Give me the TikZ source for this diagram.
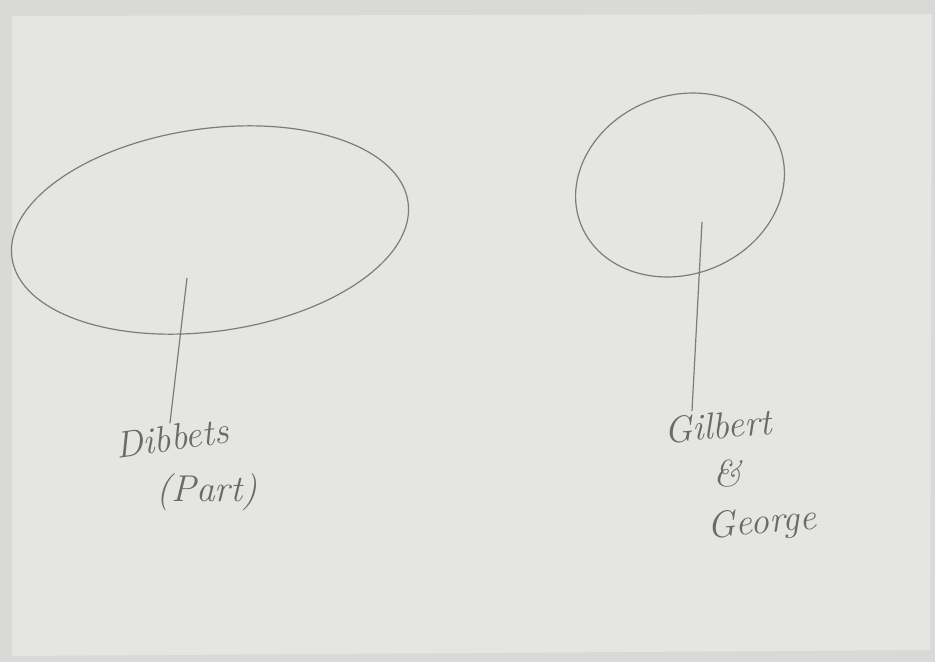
\documentclass[tikz,border=0pt]{standalone}
\usetikzlibrary{shapes.geometric}
\definecolor{outerbg}{HTML}{D9D9D8}
\definecolor{paper}{HTML}{E5E5E1}
\definecolor{pencil}{HTML}{7C7C7C}
\definecolor{ink}{HTML}{6A6A6A}
\tikzset{
  blob/.style={draw=pencil, line width=0.9pt, shape=ellipse, inner sep=0pt},
  stem/.style={draw=pencil, line width=0.9pt},
  hand/.style={text=ink, inner sep=1pt, font=\fontsize{28}{32}\selectfont\itshape}
}
\begin{document}
\begin{tikzpicture}[x=0.75pt,y=0.75pt]
\useasboundingbox (0,0) rectangle (935,662);
\fill[outerbg] (0,0) rectangle (935,662);
\fill[paper] (12,6) -- (930,12) -- (932,648) -- (12,646) -- cycle;
% left group
\node[blob, minimum width=300pt, minimum height=152pt, rotate=8] (e1) at (210,432) {};
\coordinate (s1) at (187,384);
\node[hand, rotate=8] (dib) at (172,224) {Dibbets};
\node[hand] (part) at (207,170) {(Part)};
\draw[stem] (s1) -- (dib.north);
% right group
\node[blob, minimum width=160pt, minimum height=134pt, rotate=22] (e2) at (680,477) {};
\coordinate (s2) at (702,440);
\node[hand, rotate=5] (gil) at (718,236) {Gilbert};
\node[hand] (amp) at (727,188) {\&};
\node[hand, rotate=5] (geo) at (762,138) {George};
\draw[stem] (s2) -- (gil.north -| 692,0);
\end{tikzpicture}
\end{document}
